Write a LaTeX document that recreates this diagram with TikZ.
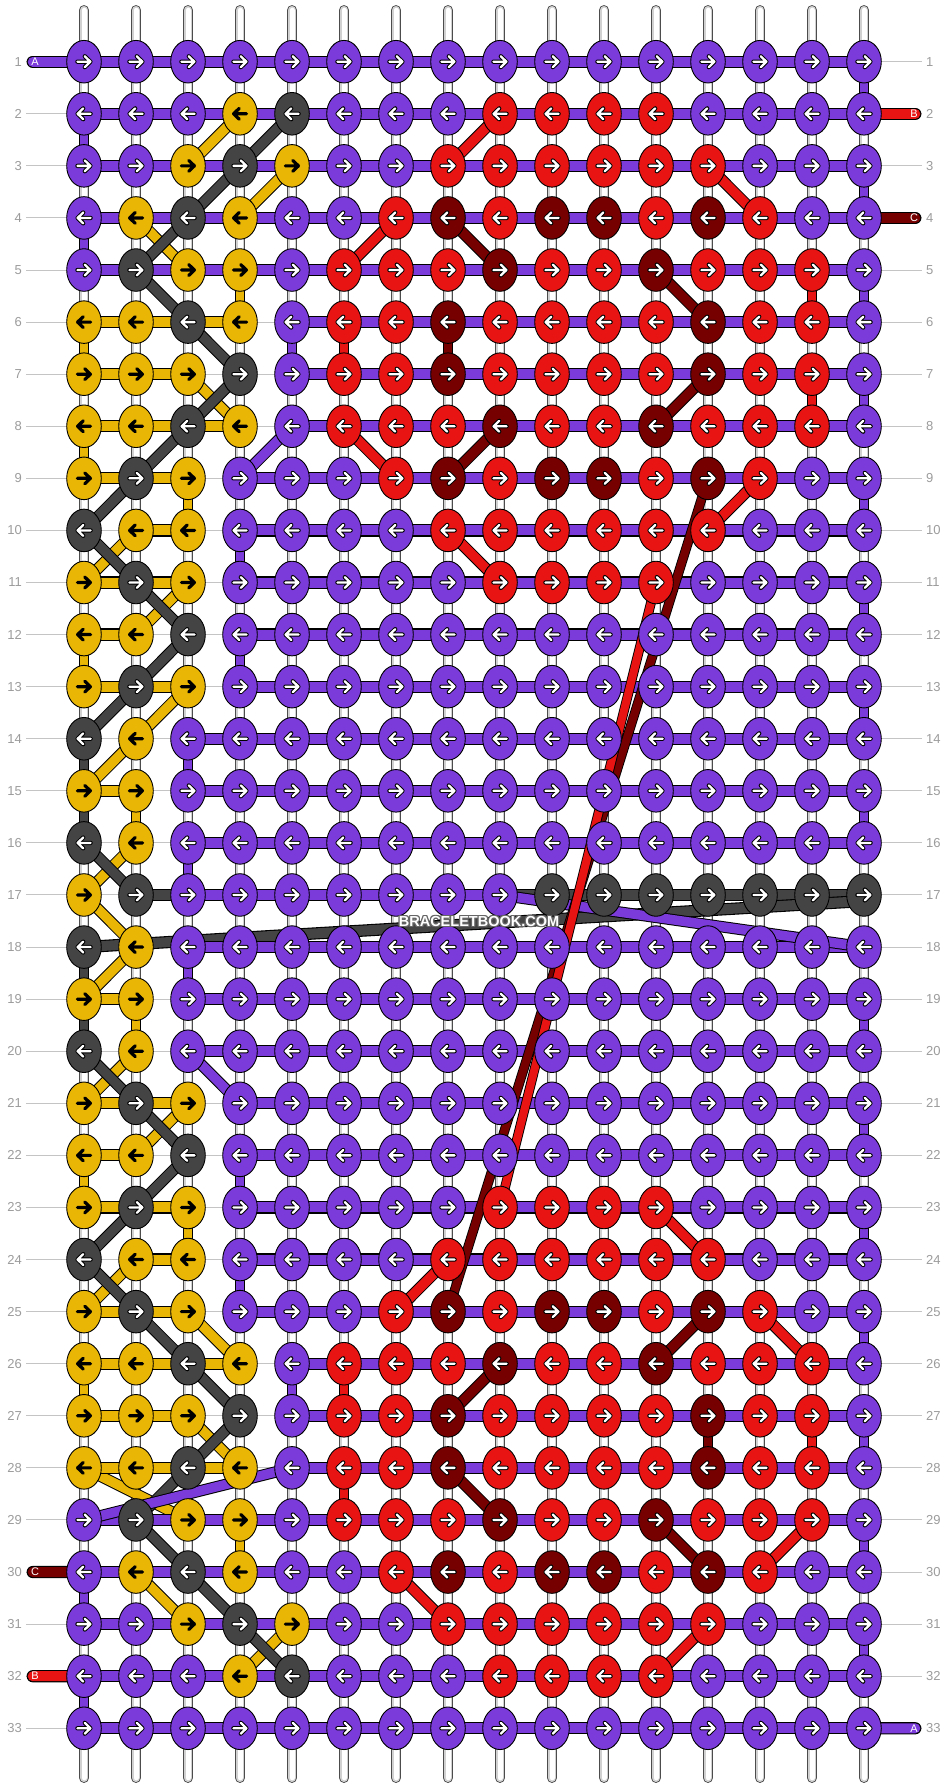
\documentclass[tikz,border=0pt]{standalone}
\usepackage{fontspec}
\newfontfamily\lsans{Liberation Sans}
\usetikzlibrary{shapes.geometric}
\definecolor{kP}{HTML}{7B3BDB}
\definecolor{kY}{HTML}{E9B606}
\definecolor{kG}{HTML}{444444}
\definecolor{kR}{HTML}{E81414}
\definecolor{kM}{HTML}{760000}
\definecolor{numgray}{HTML}{9C9C9C}
\definecolor{linegray}{HTML}{C4C4C4}
\pgfdeclarelayer{back}
\pgfdeclarelayer{bars}
\pgfsetlayers{back,bars,main}
\tikzset{
 knot/.style={ellipse, draw=black, line width=0.9pt, minimum width=34.6pt, minimum height=42.6pt, inner sep=0pt},
 hb/.style={draw=black, line width=1.1pt, double=#1, double distance=10pt},
 vb/.style={draw=black, line width=1pt, double=#1, double distance=8.7pt},
 db/.style={draw=black, line width=1pt, double=#1, double distance=9.5pt},
 lb/.style={draw=black, line width=0.9pt, double=#1, double distance=8pt},
 rowline/.style={draw=linegray, line width=1pt},
 numl/.style={font=\lsans\fontsize{13}{13}\selectfont, text=numgray, inner sep=0pt, anchor=east},
 numr/.style={font=\lsans\fontsize{13}{13}\selectfont, text=numgray, inner sep=0pt, anchor=west},
 letr/.style={font=\lsans\fontsize{11}{11}\selectfont, text=white, inner sep=0pt},
 wm/.style={font=\lsans\bfseries\fontsize{14.5}{14.5}\selectfont, inner sep=0pt},
 oarr/.style={draw=black, line width=4.3pt, line cap=round, line join=round},
 iarr/.style={draw=white, line width=2.3pt, line cap=round, line join=round},
 yarr/.style={draw=black, line width=3.2pt, line cap=round, line join=round},
}
\def\isY{Y}
\def\rows{%
1/{P,P,P,P,P,P,P,P,P,P,P,P,P,P,P,P},
2/{P,P,P,Y,G,P,P,P,R,R,R,R,P,P,P,P},
3/{P,P,Y,G,Y,P,P,R,R,R,R,R,R,P,P,P},
4/{P,Y,G,Y,P,P,R,M,R,M,M,R,M,R,P,P},
5/{P,G,Y,Y,P,R,R,R,M,R,R,M,R,R,R,P},
6/{Y,Y,G,Y,P,R,R,M,R,R,R,R,M,R,R,P},
7/{Y,Y,Y,G,P,R,R,M,R,R,R,R,M,R,R,P},
8/{Y,Y,G,Y,P,R,R,R,M,R,R,M,R,R,R,P},
9/{Y,G,Y,P,P,P,R,M,R,M,M,R,M,R,P,P},
10/{G,Y,Y,P,P,P,P,R,R,R,R,R,R,P,P,P},
11/{Y,G,Y,P,P,P,P,P,R,R,R,R,P,P,P,P},
12/{Y,Y,G,P,P,P,P,P,P,P,P,P,P,P,P,P},
13/{Y,G,Y,P,P,P,P,P,P,P,P,P,P,P,P,P},
14/{G,Y,P,P,P,P,P,P,P,P,P,P,P,P,P,P},
15/{Y,Y,P,P,P,P,P,P,P,P,P,P,P,P,P,P},
16/{G,Y,P,P,P,P,P,P,P,P,P,P,P,P,P,P},
17/{Y,G,P,P,P,P,P,P,P,G,G,G,G,G,G,G},
18/{G,Y,P,P,P,P,P,P,P,P,P,P,P,P,P,P},
19/{Y,Y,P,P,P,P,P,P,P,P,P,P,P,P,P,P},
20/{G,Y,P,P,P,P,P,P,P,P,P,P,P,P,P,P},
21/{Y,G,Y,P,P,P,P,P,P,P,P,P,P,P,P,P},
22/{Y,Y,G,P,P,P,P,P,P,P,P,P,P,P,P,P},
23/{Y,G,Y,P,P,P,P,P,R,R,R,R,P,P,P,P},
24/{G,Y,Y,P,P,P,P,R,R,R,R,R,R,P,P,P},
25/{Y,G,Y,P,P,P,R,M,R,M,M,R,M,R,P,P},
26/{Y,Y,G,Y,P,R,R,R,M,R,R,M,R,R,R,P},
27/{Y,Y,Y,G,P,R,R,M,R,R,R,R,M,R,R,P},
28/{Y,Y,G,Y,P,R,R,M,R,R,R,R,M,R,R,P},
29/{P,G,Y,Y,P,R,R,R,M,R,R,M,R,R,R,P},
30/{P,Y,G,Y,P,P,R,M,R,M,M,R,M,R,P,P},
31/{P,P,Y,G,Y,P,P,R,R,R,R,R,R,P,P,P},
32/{P,P,P,Y,G,P,P,P,R,R,R,R,P,P,P,P},
33/{P,P,P,P,P,P,P,P,P,P,P,P,P,P,P,P}}
\begin{document}
\begin{tikzpicture}[x=1pt,y=-1pt]
\useasboundingbox (0,0) rectangle (948,1788);

% ---------- knots (main layer) ----------
\foreach \rr/\lst in \rows {
  \pgfmathsetmacro\Y{9.62+52.08*\rr}
  \ifodd\rr\relax \gdef\dir{1}\else\gdef\dir{-1}\fi
  \foreach \cc [count=\cx] in \lst {
    \pgfmathsetmacro\X{32+52*\cx}
    \node[knot, fill=k\cc] (k-\rr-\cx) at (\X,\Y) {};
    \edef\tmp{\cc}
    \ifx\tmp\isY
      \draw[yarr, shift={(\X,\Y)}, xscale=\dir] (-6.6,0) -- (6.0,0) (0.8,-5.4) -- (6.4,0) -- (0.8,5.4);
    \else
      \draw[oarr, shift={(\X,\Y)}, xscale=\dir] (-6.6,0) -- (6.0,0) (0.8,-5.4) -- (6.4,0) -- (0.8,5.4);
      \draw[iarr, shift={(\X,\Y)}, xscale=\dir] (-6.6,0) -- (6.0,0) (0.8,-5.4) -- (6.4,0) -- (0.8,5.4);
    \fi
  }
}

% ---------- background: row lines and white base strings ----------
\begin{pgfonlayer}{back}
\fill[white] (0,0) rectangle (948,1788);
\foreach \rr in {1,...,33}{
  \pgfmathsetmacro\Y{9.62+52.08*\rr}
  \draw[rowline] (26,\Y) -- (922,\Y);
}
\foreach \cx in {1,...,16}{
  \pgfmathsetmacro\X{32+52*\cx}
  \draw[line width=10.3pt, black!70, line cap=round] (\X,10.2) -- (\X,1777.8);
  \draw[line width=8.5pt, black!18, line cap=round] (\X,10.2) -- (\X,1777.8);
  \draw[line width=5pt, white, line cap=round] (\X,10.2) -- (\X,1777.8);
}
\end{pgfonlayer}

% ---------- connectors ----------
\begin{pgfonlayer}{bars}
% diagonals
\foreach \ra/\ca/\rb/\cb in {2/4/3/3, 3/5/4/4, 4/2/5/3, 7/3/8/4, 10/2/11/1, 11/3/12/2, 13/3/14/2, 14/2/15/1, 16/2/17/1, 17/1/18/2, 18/2/19/1, 20/2/21/1, 21/3/22/2, 24/2/25/1, 25/3/26/4, 27/3/28/4, 28/1/29/3, 30/2/31/3, 31/5/32/4}
  \draw[db=kY] (k-\ra-\ca.center) -- (k-\rb-\cb.center);
\foreach \ra/\ca/\rb/\cb in {2/5/3/4, 3/4/4/3, 4/3/5/2, 5/2/6/3, 6/3/7/4, 7/4/8/3, 8/3/9/2, 9/2/10/1, 10/1/11/2, 11/2/12/3, 12/3/13/2, 13/2/14/1, 16/1/17/2, 20/1/21/2, 21/2/22/3, 22/3/23/2, 23/2/24/1, 24/1/25/2, 25/2/26/3, 26/3/27/4, 27/4/28/3, 28/3/29/2, 29/2/30/3, 30/3/31/4, 31/4/32/5}
  \draw[db=kG] (k-\ra-\ca.center) -- (k-\rb-\cb.center);
\foreach \ra/\ca/\rb/\cb in {3/8/2/9, 3/13/4/14, 4/7/5/6, 8/6/9/7, 9/14/10/13, 10/8/11/9, 23/12/24/13, 24/8/25/7, 25/14/26/15, 29/15/30/14, 30/7/31/8, 31/13/32/12}
  \draw[db=kR] (k-\ra-\ca.center) -- (k-\rb-\cb.center);
\foreach \ra/\ca/\rb/\cb in {4/8/5/9, 5/12/6/13, 7/13/8/12, 8/9/9/8, 25/13/26/12, 26/9/27/8, 28/8/29/9, 29/12/30/13}
  \draw[db=kM] (k-\ra-\ca.center) -- (k-\rb-\cb.center);
% verticals
\foreach \ra/\cx/\rb in {1/16/2, 3/16/4, 5/16/6, 7/16/8, 9/16/10, 11/16/12, 13/16/14, 15/16/16, 19/16/20, 21/16/22, 23/16/24, 25/16/26, 27/16/28, 29/16/30, 31/16/32, 2/1/3, 4/1/5, 6/5/7, 10/4/11, 12/4/13, 14/3/15, 16/3/17, 18/3/19, 22/4/23, 24/4/25, 26/5/27, 30/1/31, 32/1/33}
  \draw[vb=kP] (k-\ra-\cx.center) -- (k-\rb-\cx.center);
\foreach \ra/\cx/\rb in {5/4/6, 6/1/7, 8/1/9, 9/3/10, 12/1/13, 15/2/16, 19/2/20, 22/1/23, 23/3/24, 26/1/27, 29/4/30}
  \draw[vb=kY] (k-\ra-\cx.center) -- (k-\rb-\cx.center);
\foreach \ra/\cx/\rb in {14/1/16, 18/1/20}
  \draw[vb=kG] (k-\ra-\cx.center) -- (k-\rb-\cx.center);
\foreach \ra/\cx/\rb in {5/15/6, 6/6/7, 7/15/8, 26/6/27, 27/15/28, 28/6/29}
  \draw[vb=kR] (k-\ra-\cx.center) -- (k-\rb-\cx.center);
\foreach \ra/\cx/\rb in {6/8/7, 27/13/28}
  \draw[vb=kM] (k-\ra-\cx.center) -- (k-\rb-\cx.center);
% grey string along row 17 and back to row 18
\coordinate (gret) at (864,901);
\draw[hb=kG] (k-17-2.center) -- (k-17-16.center);
\draw[hb=kG] (gret) -- (k-18-1.center);
% horizontal runs
\foreach \rr/\ca/\cb in {1/1/16, 2/1/16, 3/1/16, 4/1/16, 5/1/16, 6/5/16, 7/5/16, 8/5/16, 9/4/16, 10/4/16, 11/4/16, 12/4/16, 13/4/16, 14/3/16, 15/3/16, 16/3/16, 17/3/9, 18/3/16, 19/3/16, 20/3/16, 21/4/16, 22/4/16, 23/4/16, 24/4/16, 25/4/16, 26/5/16, 27/5/16, 28/5/16, 29/1/16, 30/1/16, 31/1/16, 32/1/16, 33/1/16}
  \draw[hb=kP] (k-\rr-\ca.center) -- (k-\rr-\cb.center);
\foreach \rr/\ca/\cb in {6/1/4, 7/1/3, 8/1/4, 9/1/3, 10/2/3, 11/1/3, 12/1/2, 13/1/3, 15/1/2, 19/1/2, 21/1/3, 22/1/2, 23/1/3, 24/2/3, 25/1/3, 26/1/4, 27/1/3, 28/1/4}
  \draw[hb=kY] (k-\rr-\ca.center) -- (k-\rr-\cb.center);
% purple diagonals
\foreach \ra/\ca/\rb/\cb in {8/5/9/4, 20/3/21/4, 28/5/29/1, 17/9/18/16}
  \draw[db=kP] (k-\ra-\ca.center) -- (k-\rb-\cb.center);
% long strands
\draw[lb=kM] (k-9-13.center) -- (k-25-8.center);
\draw[lb=kR] (k-11-12.center) -- (k-23-9.center);
% loose ends with letters
\coordinate (sA1) at (32.7,61.70);
\coordinate (sB1) at (915.3,113.78);
\coordinate (sC1) at (915.3,217.94);
\coordinate (sC2) at (32.7,1572.02);
\coordinate (sB2) at (32.7,1676.18);
\coordinate (sA2) at (915.3,1728.26);
\draw[hb=kP, line cap=round] (sA1) -- (k-1-1.center);
\draw[hb=kR, line cap=round] (k-2-16.center) -- (sB1);
\draw[hb=kM, line cap=round] (k-4-16.center) -- (sC1);
\draw[hb=kM, line cap=round] (sC2) -- (k-30-1.center);
\draw[hb=kR, line cap=round] (sB2) -- (k-32-1.center);
\draw[hb=kP, line cap=round] (k-33-16.center) -- (sA2);
\end{pgfonlayer}

\node[letr] (tA1) at (35,61.70) {A};
\node[letr] (tB1) at (914,113.78) {B};
\node[letr] (tC1) at (914,217.94) {C};
\node[letr] (tC2) at (35,1572.02) {C};
\node[letr] (tB2) at (35,1676.18) {B};
\node[letr] (tA2) at (914,1728.26) {A};

% row numbers
\foreach \rr in {1,...,33}{
  \pgfmathsetmacro\Y{9.62+52.08*\rr}
  \node[numl] (nl-\rr) at (22,\Y) {\rr};
  \node[numr] (nr-\rr) at (926,\Y) {\rr};
}

% watermark
\foreach \dx/\dy in {-1/0,1/0,0/-1,0/1,-1/-1,1/1,-1/1,1/-1}
  \node[wm, text=black!60] at (479+\dx,921+\dy) {BRACELETBOOK.COM};
\node[wm, text=white] (wmark) at (479,921) {BRACELETBOOK.COM};
\end{tikzpicture}
\end{document}
